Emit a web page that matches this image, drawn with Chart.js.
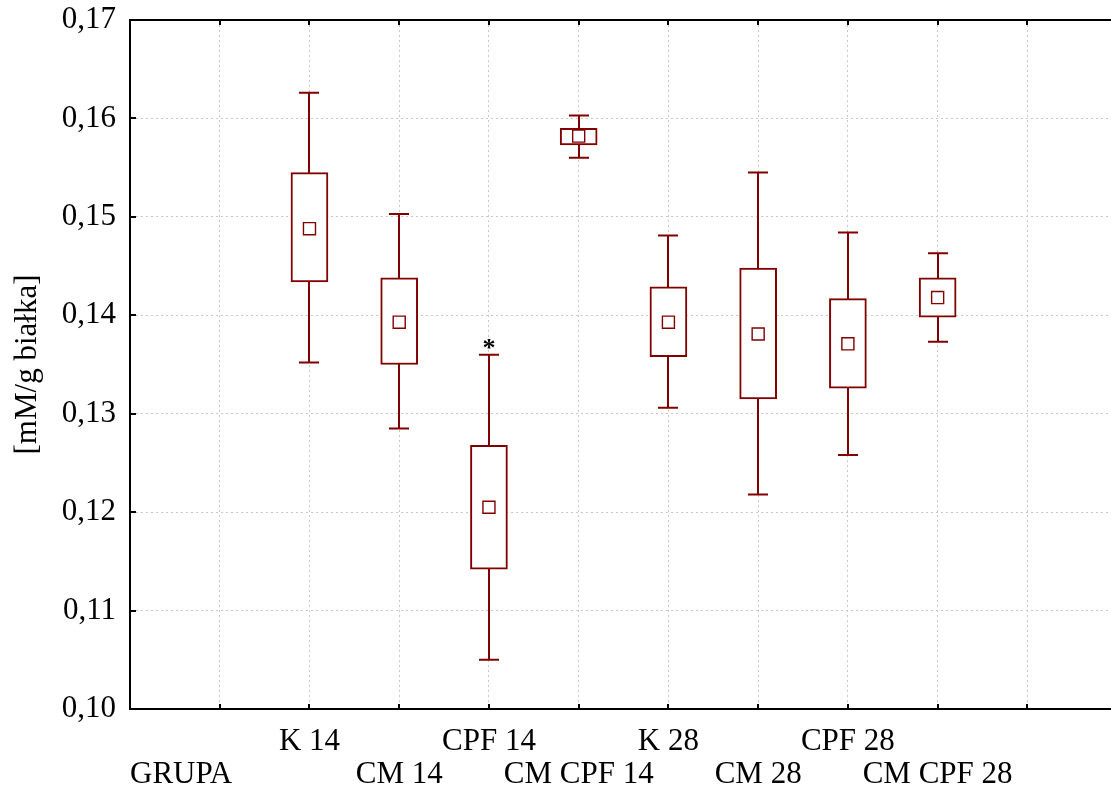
<!DOCTYPE html>
<html>
<head>
<meta charset="utf-8">
<title>GRUPA</title>
<script src="https://cdn.jsdelivr.net/npm/chart.js@4"></script>
<style>
  html, body { margin: 0; padding: 0; background: #fff; overflow: hidden; }
  #wrap { position: absolute; left: 0; top: 0; width: 1127px; height: 800px; }
</style>
</head>
<body>
<div id="wrap"><canvas id="c"></canvas></div>
<script>
// Groups on the horizontal axis (positions 2..9 on a 0..11 axis)
const groups = ['K 14', 'CM 14', 'CPF 14', 'CM CPF 14', 'K 28', 'CM 28', 'CPF 28', 'CM CPF 28'];
// Mean, box (mean ± SE) and whiskers (mean ± SD), mM/g białka
const means       = [0.1488, 0.1393, 0.1205, 0.1582, 0.1393, 0.1381, 0.1371, 0.1418];
const boxLow      = [0.1434, 0.1350, 0.1142, 0.1573, 0.1358, 0.1315, 0.1326, 0.1398];
const boxHigh     = [0.1545, 0.1438, 0.1268, 0.1590, 0.1429, 0.1448, 0.1417, 0.1438];
const whiskerLow  = [0.1352, 0.1285, 0.1050, 0.1560, 0.1306, 0.1218, 0.1258, 0.1373];
const whiskerHigh = [0.1626, 0.1503, 0.1360, 0.1603, 0.1481, 0.1545, 0.1484, 0.1463];
// Significance markers above the whiskers
const marks       = ['', '', '*', '', '', '', '', ''];
// Axis ticks
const yTickValues = [0.10, 0.11, 0.12, 0.13, 0.14, 0.15, 0.16, 0.17];
const xTickValues = [1, 2, 3, 4, 5, 6, 7, 8, 9, 10];
const xAxisName = 'GRUPA';
const yAxisName = '[mM/g białka]';

const MAROON = '#800000';
const FONT = "'Liberation Serif', 'Times New Roman', serif";
const FONT_SIZE = 31;
const LINE_H = 1.07;
const X_PAD = 16;

const posOf = i => i + 2;

Chart.defaults.font.family = FONT;
Chart.defaults.color = '#000';

const boxData = groups.map((g, i) => ({ x: posOf(i), y: [boxLow[i], boxHigh[i]] }));
const meanData = groups.map((g, i) => ({ x: posOf(i), y: means[i] }));

// Whiskers are drawn under the boxes; frame ticks, top edge and texts on top
const boxPlotExtras = {
  id: 'boxPlotExtras',
  beforeDatasetsDraw(chart) {
    const { ctx, scales: { x, y } } = chart;
    ctx.save();
    ctx.strokeStyle = MAROON;
    ctx.lineWidth = 2;
    ctx.lineCap = 'butt';
    groups.forEach((g, i) => {
      const px = Math.round(x.getPixelForValue(posOf(i)));
      const yHi = y.getPixelForValue(whiskerHigh[i]);
      const yLo = y.getPixelForValue(whiskerLow[i]);
      ctx.beginPath();
      ctx.moveTo(px, yHi); ctx.lineTo(px, yLo);
      ctx.moveTo(px - 10, yHi); ctx.lineTo(px + 10, yHi);
      ctx.moveTo(px - 10, yLo); ctx.lineTo(px + 10, yLo);
      ctx.stroke();
    });
    ctx.restore();
  },
  afterDraw(chart) {
    const { ctx, chartArea: a, scales: { x, y } } = chart;
    ctx.save();
    ctx.strokeStyle = '#000';
    ctx.lineWidth = 2;
    // top edge of the frame
    ctx.beginPath();
    ctx.moveTo(a.left - 1, a.top);
    ctx.lineTo(a.right, a.top);
    ctx.stroke();
    // inward tick marks
    ctx.beginPath();
    xTickValues.forEach(v => {
      const px = Math.round(x.getPixelForValue(v));
      ctx.moveTo(px, a.bottom); ctx.lineTo(px, a.bottom - 5);
      ctx.moveTo(px, a.top); ctx.lineTo(px, a.top + 5);
    });
    yTickValues.forEach(v => {
      const py = Math.round(y.getPixelForValue(v));
      ctx.moveTo(a.left, py); ctx.lineTo(a.left + 6, py);
    });
    ctx.stroke();
    // significance markers
    ctx.fillStyle = '#000';
    ctx.font = 'bold 26px ' + FONT;
    ctx.textAlign = 'center';
    ctx.textBaseline = 'alphabetic';
    marks.forEach((m, i) => {
      if (!m) return;
      const px = x.getPixelForValue(posOf(i));
      const py = y.getPixelForValue(whiskerHigh[i]);
      ctx.fillText(m, px, py + 1);
    });
    // axis name in the second label row
    ctx.font = FONT_SIZE + 'px ' + FONT;
    ctx.textAlign = 'left';
    ctx.textBaseline = 'middle';
    const lh = FONT_SIZE * LINE_H;
    ctx.fillText(xAxisName, a.left, a.bottom + X_PAD + lh * 1.5);
    ctx.restore();
  }
};

new Chart(document.getElementById('c'), {
  type: 'bar',
  data: {
    datasets: [
      {
        type: 'bar',
        data: boxData,
        backgroundColor: '#ffffff',
        borderColor: MAROON,
        borderWidth: 2,
        borderSkipped: false,
        barThickness: 37,
        order: 2
      },
      {
        type: 'scatter',
        data: meanData,
        pointStyle: 'rect',
        pointRadius: 8.5,
        pointBorderWidth: 1.4,
        pointBackgroundColor: '#ffffff',
        pointBorderColor: MAROON,
        order: 1
      }
    ]
  },
  options: {
    responsive: true,
    maintainAspectRatio: false,
    devicePixelRatio: 1,
    animation: false,
    events: [],
    layout: { padding: { top: 20, right: 3, left: 0, bottom: 0 } },
    plugins: { legend: { display: false }, tooltip: { enabled: false } },
    scales: {
      x: {
        type: 'linear',
        min: 0,
        max: 11,
        offset: false,
        afterBuildTicks: s => { s.ticks = xTickValues.map(v => ({ value: v })); },
        afterFit: s => { s.height = 91; },
        grid: { color: '#c8c8c8', lineWidth: 1, drawTicks: false, offset: false },
        border: { display: true, color: '#000', width: 2, dash: [2, 3] },
        ticks: {
          autoSkip: false,
          maxRotation: 0,
          minRotation: 0,
          padding: X_PAD,
          font: { size: FONT_SIZE, lineHeight: LINE_H },
          color: '#000',
          callback: v => {
            const i = v - 2;
            if (i < 0 || i >= groups.length) return ['', ''];
            return i % 2 === 0 ? [groups[i], ''] : ['', groups[i]];
          }
        }
      },
      y: {
        min: 0.10,
        max: 0.17,
        afterBuildTicks: s => { s.ticks = yTickValues.map(v => ({ value: v })); },
        afterFit: s => { s.width = 130; },
        grid: { color: '#c8c8c8', lineWidth: 1, drawTicks: false },
        border: { display: true, color: '#000', width: 2, dash: [2, 3] },
        ticks: {
          padding: 14,
          font: { size: FONT_SIZE, lineHeight: 0.3 },
          color: '#000',
          callback: v => v.toFixed(2).replace('.', ',')
        },
        title: {
          display: true,
          text: yAxisName,
          font: { size: FONT_SIZE, lineHeight: 1.0 },
          color: '#000',
          padding: { top: 12, bottom: 0 }
        }
      }
    }
  },
  plugins: [boxPlotExtras]
});
</script>
</body>
</html>
